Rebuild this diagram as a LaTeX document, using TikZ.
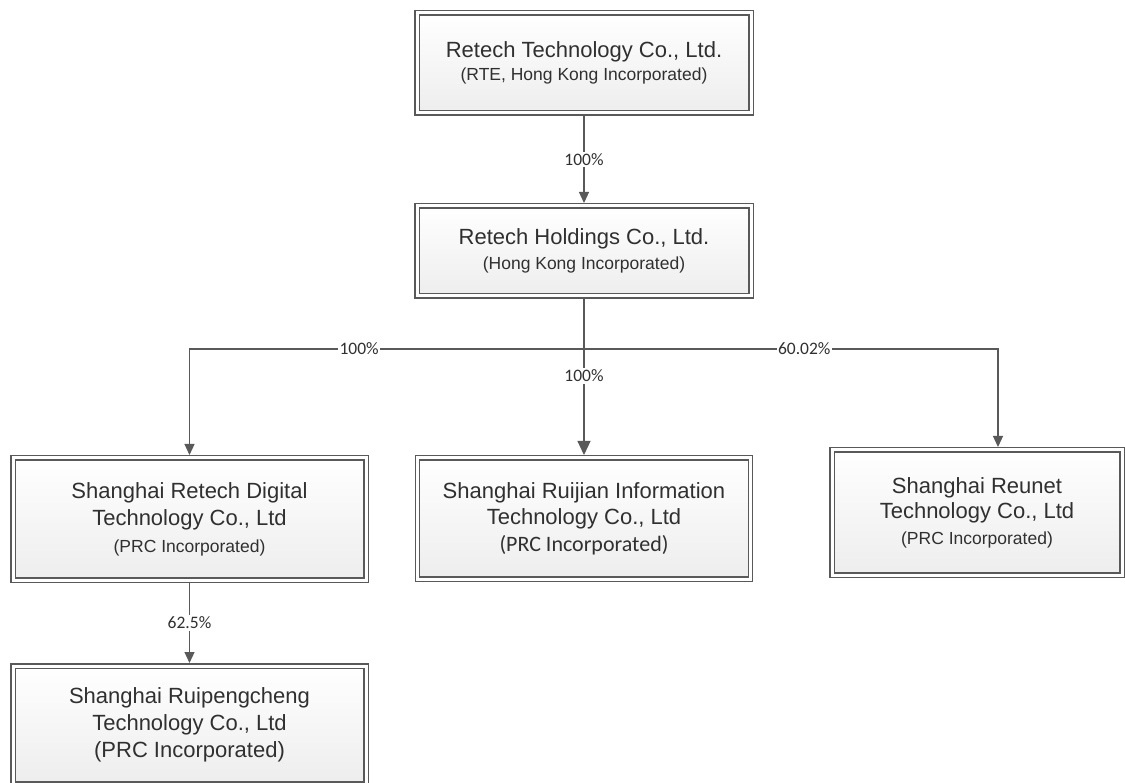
\documentclass[tikz,border=0pt]{standalone}
\usepackage{fontspec}
\setmainfont{Liberation Sans}
\newfontfamily\calfont{Carlito}
\usetikzlibrary{arrows.meta,shadows}
\definecolor{linec}{HTML}{595959}
\definecolor{txtc}{HTML}{303030}
\newcommand\subA{\fontsize{17.5}{27}\selectfont}
\newcommand\subB{\calfont\fontsize{22}{27}\selectfont}
\tikzset{
  box/.style={draw=linec, line width=1.4pt, double=white, double distance=3pt,
    top color=white, bottom color=black!7, inner sep=0pt, outer sep=3pt,
    align=center, text=txtc, font=\fontsize{22}{27}\selectfont,
    drop shadow={shadow xshift=2.5pt, shadow yshift=-2.5pt, fill=black!9, opacity=1}},
  arr/.style={draw=linec, line width=1.2pt, -{Triangle[width=10pt,length=11pt]}},
  bigarr/.style={draw=linec, line width=1.2pt, -{Triangle[width=13pt,length=14pt]}},
  lbl/.style={fill=white, inner sep=1.5pt, text=txtc, font=\calfont\fontsize{17.5}{17.5}\selectfont}
}
\begin{document}
\begin{tikzpicture}[x=1pt,y=-1pt]
\useasboundingbox (0,0) rectangle (1125,783);
\clip (0,0) rectangle (1125,783);
\node[box, minimum width=334pt, minimum height=100pt] (b1) at (584,63)
  {Retech Technology Co., Ltd.\\[-4pt]{\subA (RTE, Hong Kong Incorporated)}};
\node[box, minimum width=334pt, minimum height=90pt] (b2) at (584,251)
  {Retech Holdings Co., Ltd.\\[-2pt]{\subA (Hong Kong Incorporated)}};
\node[box, minimum width=353pt, minimum height=122pt] (b3) at (189.5,519)
  {Shanghai Retech Digital\\Technology Co., Ltd\\{\subA (PRC Incorporated)}};
\node[box, minimum width=333pt, minimum height=121pt] (bm) at (584,518.5)
  {Shanghai Ruijian Information\\[-1pt]Technology Co., Ltd\\{\subB (PRC Incorporated)}};
\node[box, minimum width=290pt, minimum height=125pt] (br) at (977,512.5)
  {Shanghai Reunet\\[-2pt]Technology Co., Ltd\\[-1pt]{\subA (PRC Incorporated)}};
\node[box, minimum width=353pt, minimum height=118pt] (b5) at (189.5,725)
  {Shanghai Ruipengcheng\\Technology Co., Ltd\\(PRC Incorporated)};
\coordinate (j) at (584,349);
\draw[arr] (b1.south) -- node[lbl]{100\%} (b2.north);
\draw[draw=linec, line width=1.2pt] (b2.south) -- (j);
\draw[arr] (j) -| node[lbl, pos=0.285]{100\%} (b3.north);
\draw[arr] (j) -| node[lbl, pos=0.266]{60.02\%} ([xshift=21pt]br.north);
\draw[bigarr] (j) -- node[lbl, pos=0.255]{100\%} (bm.north);
\draw[arr] (b3.south) -- node[lbl]{62.5\%} (b5.north);
\end{tikzpicture}
\end{document}
